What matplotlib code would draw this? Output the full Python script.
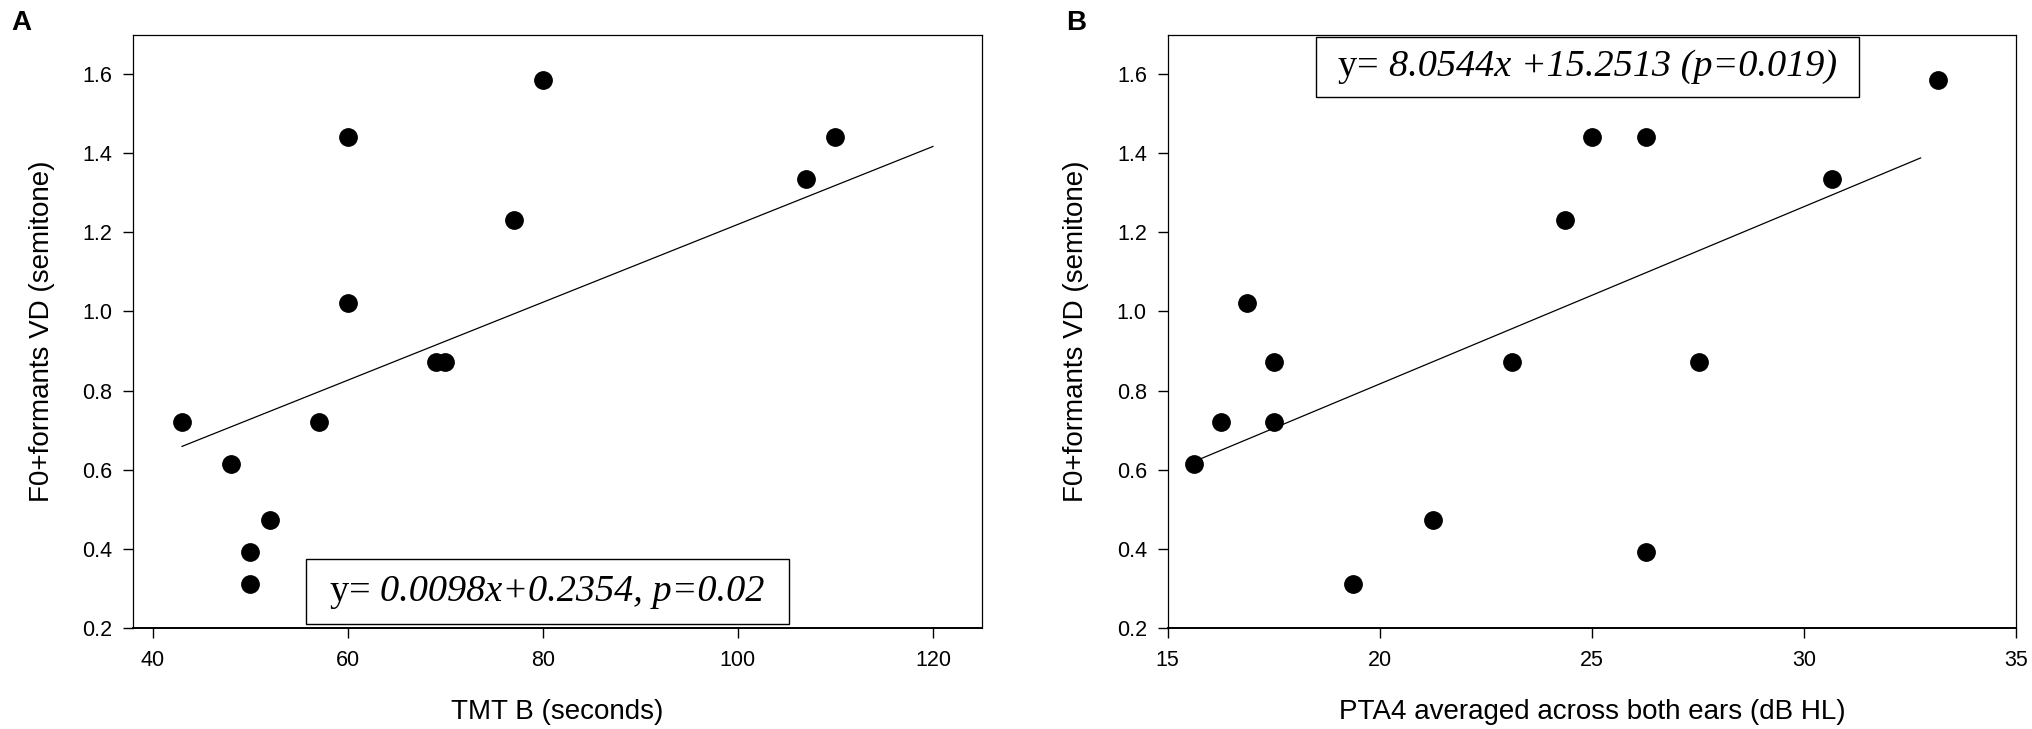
import matplotlib.pyplot as plt
from matplotlib.patches import Rectangle
from matplotlib.offsetbox import TextArea, HPacker, AnchoredOffsetbox

plt.rcParams['font.family'] = ['Liberation Sans', 'DejaVu Sans']

# Panel A: TMT B vs F0+formants VD
tmt_b = [43, 48, 52, 50, 50, 57, 60, 60, 69, 70, 77, 80, 107, 110]
vd_a = [0.72, 0.615, 0.473, 0.391, 0.312, 0.72, 1.441, 1.021, 0.872, 0.872, 1.231, 1.586, 1.335, 1.441]
fit_a_x = [43, 120]
fit_a_y = [0.659, 1.417]

# Panel B: PTA4 vs F0+formants VD
pta4 = [15.62, 16.26, 16.87, 17.51, 17.51, 19.37, 21.26, 23.12, 24.37, 25.0, 26.27, 26.27, 27.53, 30.66, 33.15]
vd_b = [0.615, 0.72, 1.021, 0.872, 0.72, 0.312, 0.473, 0.872, 1.231, 1.441, 1.441, 0.391, 0.872, 1.335, 1.586]
fit_b_x = [15.65, 32.75]
fit_b_y = [0.622, 1.388]

yticks = [0.2, 0.4, 0.6, 0.8, 1.0, 1.2, 1.4, 1.6]
xticks_a = [40, 60, 80, 100, 120]
xticks_b = [15, 20, 25, 30, 35]

W, H = 2033, 729
fig = plt.figure(figsize=(W / 100, H / 100), dpi=100)

ax_a = fig.add_axes([133.3 / W, 101 / H, 848.4 / W, 593.5 / H])
ax_b = fig.add_axes([1167.7 / W, 101 / H, 848.3 / W, 593.5 / H])


def style_axis(ax, xticks, xlim, xlabel):
    ax.set_xlim(*xlim)
    ax.set_ylim(0.2, 1.7)
    ax.set_xticks(xticks)
    ax.set_yticks(yticks)
    ax.set_yticklabels([f'{t:.1f}' for t in yticks])
    ax.tick_params(axis='both', direction='out', length=7, width=1.0, labelsize=15.5, colors='black')
    ax.tick_params(axis='y', pad=8)
    ax.tick_params(axis='x', pad=8.8)
    for side in ['top', 'right', 'left']:
        ax.spines[side].set_linewidth(0.9)
    ax.spines['bottom'].set_linewidth(1.4)
    ax.set_xlabel(xlabel, fontsize=20)
    ax.set_ylabel('F0+formants VD (semitone)', fontsize=20)
    ax.xaxis.set_label_coords(0.5, -0.1533)
    ax.xaxis.label.set_va('baseline')
    ax.yaxis.set_label_coords(-0.0994, 0.5)
    ax.yaxis.label.set_va('baseline')


def eq_box(ax, x0, y0, x1, y1, plain, italic):
    ax.add_patch(Rectangle((x0, y0), x1 - x0, y1 - y0, transform=ax.transAxes,
                           fill=False, edgecolor='black', linewidth=1.0, zorder=4))
    size = 27.5
    parts = [TextArea(plain, textprops=dict(fontfamily='Liberation Serif', fontsize=size)),
             TextArea(italic, textprops=dict(fontfamily='Liberation Serif', fontsize=size,
                                             fontstyle='italic'))]
    pack = HPacker(children=parts, align='baseline', pad=0, sep=0)
    box = AnchoredOffsetbox(loc='center', child=pack, frameon=False, pad=0, borderpad=0,
                            bbox_to_anchor=((x0 + x1) / 2, (y0 + y1) / 2),
                            bbox_transform=ax.transAxes)
    ax.add_artist(box)


# Panel A
ax_a.plot(fit_a_x, fit_a_y, color='black', linewidth=0.9)
ax_a.plot(tmt_b, vd_a, 'o', color='black', markersize=12.5, linestyle='none')
style_axis(ax_a, xticks_a, (38, 125), 'TMT B (seconds)')
eq_box(ax_a, 0.2036, 0.0067, 0.7729, 0.1158, 'y= ', '0.0098x+0.2354, p=0.02')

# Panel B
ax_b.plot(fit_b_x, fit_b_y, color='black', linewidth=0.9)
ax_b.plot(pta4, vd_b, 'o', color='black', markersize=12.5, linestyle='none')
style_axis(ax_b, xticks_b, (15, 35), 'PTA4 averaged across both ears (dB HL)')
eq_box(ax_b, 0.175, 0.8952, 0.815, 0.9953, 'y= ', '8.0544x +15.2513 (p=0.019)')

fig.text(11 / W, 1 - 10 / H, 'A', fontsize=20, fontweight='bold', va='top', ha='left')
fig.text(1066 / W, 1 - 10 / H, 'B', fontsize=20, fontweight='bold', va='top', ha='left')

fig.savefig('out.png', dpi=100)
